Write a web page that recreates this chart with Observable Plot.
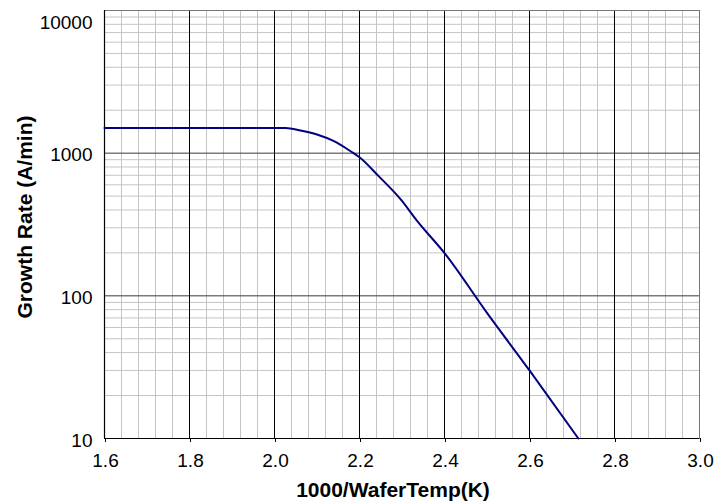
<!DOCTYPE html>
<html>
<head>
<meta charset="utf-8">
<script src="https://cdn.jsdelivr.net/npm/d3@7"></script>
<script src="https://cdn.jsdelivr.net/npm/@observablehq/plot@0.6"></script>
<style>
  html, body { margin: 0; padding: 0; background: #fff; }
  svg { font-family: "Liberation Sans", Arial, sans-serif; }
</style>
</head>
<body>
<div id="chart"></div>
<script>
// Data
const invTemp = [1.6, 2.026, 2.061, 2.100, 2.140, 2.179, 2.200, 2.245, 2.297, 2.336, 2.402, 2.500, 2.600, 2.715];
const growthRate = [1500, 1500, 1443, 1352, 1213, 1032, 937, 690, 474, 334, 196, 76, 30, 10];

const xMajorTicks = [1.6, 1.8, 2.0, 2.2, 2.4, 2.6, 2.8, 3.0];
const yMajorTicks = [10, 100, 1000, 10000];
const xTitle = "1000/WaferTemp(K)";
const yTitle = "Growth Rate (A/min)";

const xMinor = d3.range(0, 36).map(i => +(1.6 + i * 0.04).toFixed(2)).filter(v => !xMajorTicks.some(t => Math.abs(t - v) < 1e-9));
const yMinor = [];
for (const dec of [10, 100, 1000]) for (let k = 2; k <= 9; k++) yMinor.push(dec * k);

const data = invTemp.map((x, i) => ({x, y: growthRate[i]}));

const W = 714, H = 502;
const mL = 104, mR = 15, mT = 10, mB = 64;

const svg = Plot.plot({
  width: W,
  height: H,
  marginLeft: mL,
  marginRight: mR,
  marginTop: mT,
  marginBottom: mB,
  style: {fontFamily: "'Liberation Sans', Arial, sans-serif", background: "#fff"},
  x: {domain: [1.6, 3.0]},
  y: {type: "log", domain: [10, 10000]},
  marks: [
    Plot.ruleX(xMinor, {stroke: "#c4c4c4", strokeWidth: 1}),
    Plot.ruleY(yMinor, {stroke: "#c4c4c4", strokeWidth: 1}),
    Plot.ruleY(yMajorTicks, {stroke: "#3a3a3a", strokeWidth: 1}),
    Plot.ruleX(xMajorTicks, {stroke: "#000", strokeWidth: 1}),
    Plot.frame({stroke: "#777"}),
    Plot.axisX({ticks: xMajorTicks, tickFormat: d3.format(".1f"), tickSize: 4, tickPadding: 11, fontSize: 19, dx: 1, label: null, stroke: "#000"}),
    Plot.axisY({ticks: yMajorTicks.slice(0, 3), tickFormat: d3.format("d"), tickSize: 0, tickPadding: 12, fontSize: 19, dy: 2, label: null}),
    Plot.axisY({ticks: yMajorTicks.slice(3), tickFormat: d3.format("d"), tickSize: 0, tickPadding: 12, fontSize: 19, dy: 12, label: null}),
    Plot.ruleY([10], {stroke: "#000", strokeWidth: 1.2}),
    Plot.ruleX([1.6], {stroke: "#000", strokeWidth: 1.2}),
    Plot.line(data, {x: "x", y: "y", stroke: "#000080", strokeWidth: 2, curve: "monotone-x"})
  ]
});

const s = d3.select(svg);
s.append("text")
  .attr("x", 393).attr("y", 497)
  .attr("text-anchor", "middle")
  .attr("font-weight", "bold")
  .attr("font-size", 21)
  .attr("fill", "#000")
  .text(xTitle);
s.append("text")
  .attr("transform", "translate(32,217) rotate(-90)")
  .attr("text-anchor", "middle")
  .attr("font-weight", "bold")
  .attr("font-size", 21)
  .attr("fill", "#000")
  .text(yTitle);

document.getElementById("chart").appendChild(svg);
</script>
</body>
</html>
